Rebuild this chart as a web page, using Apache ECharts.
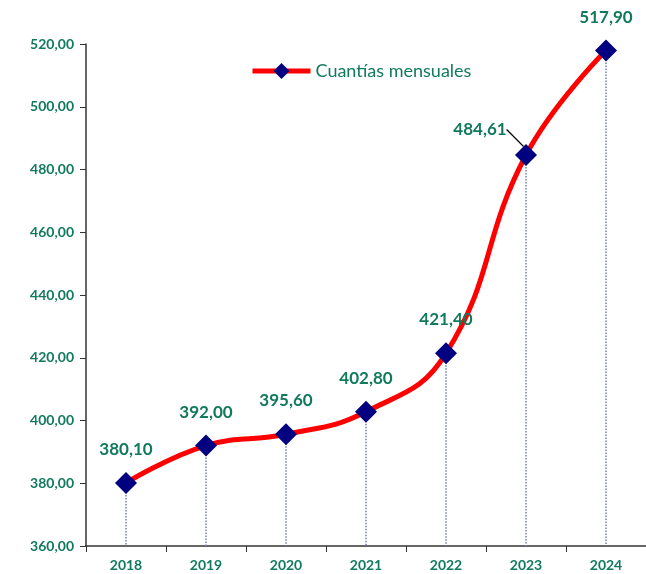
<!DOCTYPE html>
<html>
<head>
<meta charset="utf-8">
<script src="https://cdn.jsdelivr.net/npm/echarts@6/dist/echarts.min.js"></script>
<style>
html, body { margin: 0; padding: 0; background: #fff; }
#chart { width: 646px; height: 574px; }
</style>
</head>
<body>
<div id="chart"></div>
<script>
// datos
const years = ['2018', '2019', '2020', '2021', '2022', '2023', '2024']
const cuantias = [380.10, 392.00, 395.60, 402.80, 421.40, 484.61, 517.90]
const seriesName = 'Cuantías mensuales'

const verde = '#127a5c'
const fmt = v => v.toFixed(2).replace('.', ',')

const chart = echarts.init(document.getElementById('chart'))

// lineas punteadas hasta el eje
const drops = cuantias.map((v, i) => [
  { coord: [i, v] },
  { coord: [i, 360] }
])

const option = {
  backgroundColor: '#fff',
  animation: false,
  legend: {
    data: [seriesName],
    left: 245,
    top: 57,
    itemWidth: 58,
    itemHeight: 20,
    itemGap: 3,
    lineStyle: { width: 5 },
    textStyle: { color: verde, fontSize: 18, fontFamily: 'Lato' }
  },
  grid: { left: 86, right: 0, top: 44, bottom: 28 },
  xAxis: {
    type: 'category',
    data: years,
    boundaryGap: true,
    axisLine: { lineStyle: { color: '#333', width: 1.5 } },
    axisTick: { show: true, inside: false, length: 6, lineStyle: { color: '#333' } },
    axisLabel: { color: verde, fontWeight: 'bold', fontSize: 14, fontFamily: 'Lato', margin: 12 }
  },
  yAxis: {
    type: 'value',
    min: 360,
    max: 520,
    interval: 20,
    axisLine: { show: true, lineStyle: { color: '#333', width: 1.5 } },
    axisTick: { show: true, length: 6, lineStyle: { color: '#333' } },
    splitLine: { show: false },
    axisLabel: {
      color: verde, fontWeight: 'bold', fontSize: 14, fontFamily: 'Lato', margin: 12,
      formatter: v => fmt(v)
    }
  },
  series: [{
    // solo para las lineas punteadas, por debajo de la curva
    name: 'guias',
    type: 'line',
    data: cuantias,
    z: 1,
    symbol: 'none',
    lineStyle: { opacity: 0 },
    silent: true,
    markLine: {
      silent: true,
      z: 1,
      symbol: 'none',
      label: { show: false },
      lineStyle: { color: '#6f80b8', type: 'dotted', width: 1.5 },
      data: drops
    }
  }, {
    name: seriesName,
    type: 'line',
    z: 3,
    data: cuantias.map((v, i) => i === 5
      ? { value: v, labelLine: { show: true, length2: 0, lineStyle: { color: '#000', width: 1.2 } } }
      : v),
    smooth: 0.45,
    symbol: 'diamond',
    symbolSize: 22,
    lineStyle: { color: '#ff0000', width: 5 },
    itemStyle: { color: '#000080' },
    label: {
      show: true,
      position: 'top',
      distance: 14,
      color: verde,
      fontWeight: 'bold',
      fontSize: 17,
      fontFamily: 'Lato',
      formatter: p => fmt(p.value)
    },
    labelLine: { show: false },
    labelLayout: p => p.dataIndex === 5 ? { dx: -46, dy: 8 } : {}
  }]
}

chart.setOption(option)
</script>
</body>
</html>
